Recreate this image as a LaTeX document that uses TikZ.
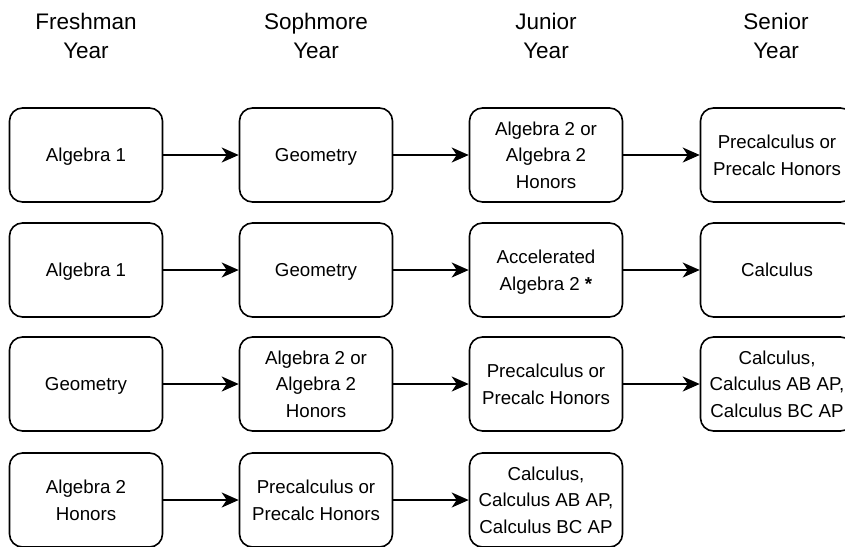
\documentclass[tikz,border=0pt]{standalone}
\usepackage{fontspec}
\setmainfont{Liberation Sans}
\usetikzlibrary{arrows.meta}
\begin{document}
\begin{tikzpicture}[x=1pt,y=-1pt,
  course/.style={draw=black, line width=1.6pt, rounded corners=13pt,
    minimum width=153pt, minimum height=94pt, inner sep=0pt, text depth=0pt,
    align=center, font=\fontsize{18.7pt}{26.5pt}\selectfont},
  header/.style={align=center, font=\fontsize{22.5pt}{29pt}\selectfont, inner sep=0pt},
  flow/.style={line width=1.6pt, -{Stealth[length=17pt, width=15pt, inset=5pt]}}]
\useasboundingbox (0,0) rectangle (845,546);
% headers
\node[header] (h1) at (86,36) {Freshman\\Year};
\node[header] (h2) at (316,36) {Sophmore\\Year};
\node[header] (h3) at (546,36) {Junior\\Year};
\node[header] (h4) at (776,36) {Senior\\Year};
% row 1
\node[course] (a1) at (86,155) {Algebra 1};
\node[course] (a2) at (316,155) {Geometry};
\node[course] (a3) at (546,155) {Algebra 2 or\\Algebra 2\\Honors};
\node[course] (a4) at (777,155) {Precalculus or\\Precalc Honors};
% row 2
\node[course] (b1) at (86,270) {Algebra 1};
\node[course] (b2) at (316,270) {Geometry};
\node[course] (b3) at (546,270) {Accelerated\\Algebra 2 \textbf{*}};
\node[course] (b4) at (777,270) {Calculus};
% row 3
\node[course] (c1) at (86,384) {Geometry};
\node[course] (c2) at (316,384) {Algebra 2 or\\Algebra 2\\Honors};
\node[course] (c3) at (546,384) {Precalculus or\\Precalc Honors};
\node[course] (c4) at (777,384) {Calculus,\\Calculus AB AP,\\Calculus BC AP};
% row 4
\node[course] (d1) at (86,500) {Algebra 2\\Honors};
\node[course] (d2) at (316,500) {Precalculus or\\Precalc Honors};
\node[course] (d3) at (546,500) {Calculus,\\Calculus AB AP,\\Calculus BC AP};
% arrows
\draw[flow] (a1) -- (a2);
\draw[flow] (a2) -- (a3);
\draw[flow] (a3) -- (a4);
\draw[flow] (b1) -- (b2);
\draw[flow] (b2) -- (b3);
\draw[flow] (b3) -- (b4);
\draw[flow] (c1) -- (c2);
\draw[flow] (c2) -- (c3);
\draw[flow] (c3) -- (c4);
\draw[flow] (d1) -- (d2);
\draw[flow] (d2) -- (d3);
\end{tikzpicture}
\end{document}
